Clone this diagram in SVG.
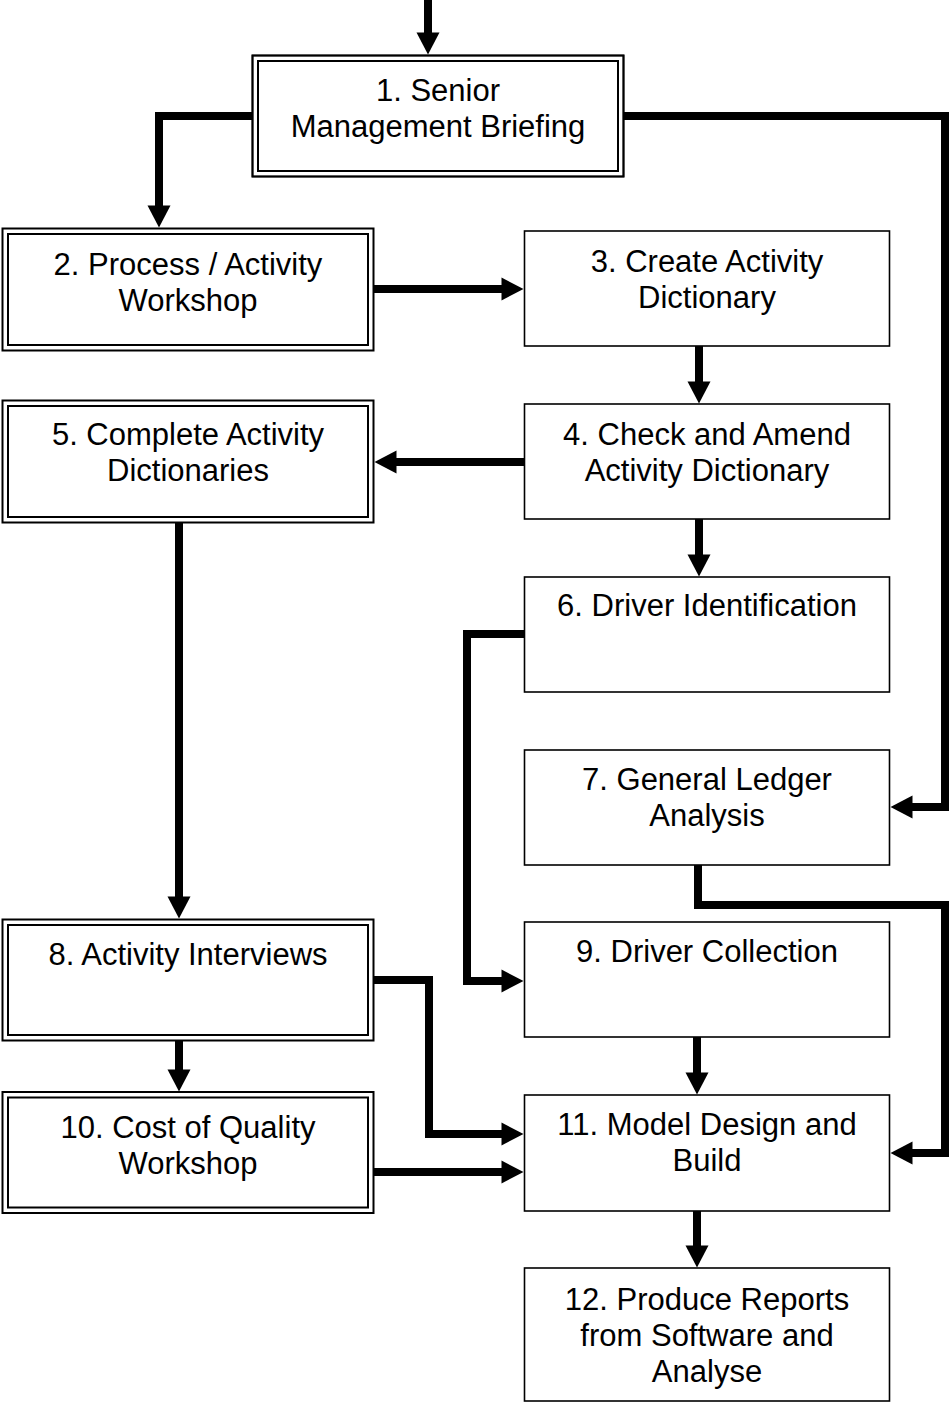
<svg xmlns="http://www.w3.org/2000/svg" width="949" height="1403" viewBox="0 0 949 1403">
<style>
.box{fill:#fff;stroke:#000;stroke-width:1.6}
.dbl{fill:none;stroke:#000;stroke-width:2}
.lbl{font-family:"Liberation Sans",Arial,sans-serif;font-size:31px;text-anchor:middle;fill:#000}
.conn{fill:none;stroke:#000;stroke-width:8;stroke-linejoin:miter;stroke-linecap:butt;marker-end:url(#ah)}
</style>
<defs>
<marker id="ah" markerUnits="userSpaceOnUse" markerWidth="23" markerHeight="23" refX="0.5" refY="11.5" orient="auto" overflow="visible">
<path d="M0,0 L22,11.5 L0,23 Z" fill="#000"/>
</marker>
</defs>
<rect width="949" height="1403" fill="#fff"/>
<g id="connectors">
<path class="conn" d="M428,0 V33"/>
<path class="conn" d="M252,116 H159 V206"/>
<path class="conn" d="M624,116 H945 V807 H912"/>
<path class="conn" d="M374,289 H502"/>
<path class="conn" d="M699,346 V382"/>
<path class="conn" d="M524,462 H396"/>
<path class="conn" d="M699,519 V555"/>
<path class="conn" d="M179,522 V897"/>
<path class="conn" d="M524,634 H467 V981 H502"/>
<path class="conn" d="M698,865 V905 H945 V1153 H912"/>
<path class="conn" d="M374,980 H429 V1134 H502"/>
<path class="conn" d="M179,1040 V1070"/>
<path class="conn" d="M374,1172 H502"/>
<path class="conn" d="M697,1037 V1073"/>
<path class="conn" d="M697,1211 V1246"/>
</g>
<g id="node1">
<rect class="box" x="252.5" y="55.5" width="371" height="121" stroke="none"/>
<rect class="dbl" x="252.5" y="55.5" width="371" height="121"/>
<rect class="dbl" x="258" y="61" width="360" height="110"/>
<text class="lbl" x="438" y="101">1. Senior</text>
<text class="lbl" x="438" y="137">Management Briefing</text>
</g>
<g id="node2">
<rect class="dbl" x="2.5" y="228.5" width="371" height="122" fill="#fff"/>
<rect class="dbl" x="8" y="234" width="360" height="111"/>
<text class="lbl" x="188" y="275">2. Process / Activity</text>
<text class="lbl" x="188" y="311">Workshop</text>
</g>
<g id="node3">
<rect class="box" x="524.5" y="231" width="365" height="115"/>
<text class="lbl" x="707" y="272">3. Create Activity</text>
<text class="lbl" x="707" y="308">Dictionary</text>
</g>
<g id="node4">
<rect class="box" x="524.5" y="404" width="365" height="115"/>
<text class="lbl" x="707" y="445">4. Check and Amend</text>
<text class="lbl" x="707" y="481">Activity Dictionary</text>
</g>
<g id="node5">
<rect class="dbl" x="2.5" y="400.5" width="371" height="122"/>
<rect class="dbl" x="8" y="406" width="360" height="111"/>
<text class="lbl" x="188" y="445">5. Complete Activity</text>
<text class="lbl" x="188" y="481">Dictionaries</text>
</g>
<g id="node6">
<rect class="box" x="524.5" y="577" width="365" height="115"/>
<text class="lbl" x="707" y="616">6. Driver Identification</text>
</g>
<g id="node7">
<rect class="box" x="524.5" y="750" width="365" height="115"/>
<text class="lbl" x="707" y="790">7. General Ledger</text>
<text class="lbl" x="707" y="826">Analysis</text>
</g>
<g id="node8">
<rect class="dbl" x="2.5" y="919.5" width="371" height="121"/>
<rect class="dbl" x="8" y="925" width="360" height="110"/>
<text class="lbl" x="188" y="965">8. Activity Interviews</text>
</g>
<g id="node9">
<rect class="box" x="524.5" y="922" width="365" height="115"/>
<text class="lbl" x="707" y="962">9. Driver Collection</text>
</g>
<g id="node10">
<rect class="dbl" x="2.5" y="1092" width="371" height="121"/>
<rect class="dbl" x="8" y="1097.5" width="360" height="110"/>
<text class="lbl" x="188" y="1138">10. Cost of Quality</text>
<text class="lbl" x="188" y="1174">Workshop</text>
</g>
<g id="node11">
<rect class="box" x="524.5" y="1095" width="365" height="116"/>
<text class="lbl" x="707" y="1135">11. Model Design and</text>
<text class="lbl" x="707" y="1171">Build</text>
</g>
<g id="node12">
<rect class="box" x="524.5" y="1268" width="365" height="133"/>
<text class="lbl" x="707" y="1310">12. Produce Reports</text>
<text class="lbl" x="707" y="1346">from Software and</text>
<text class="lbl" x="707" y="1382">Analyse</text>
</g>
</svg>
